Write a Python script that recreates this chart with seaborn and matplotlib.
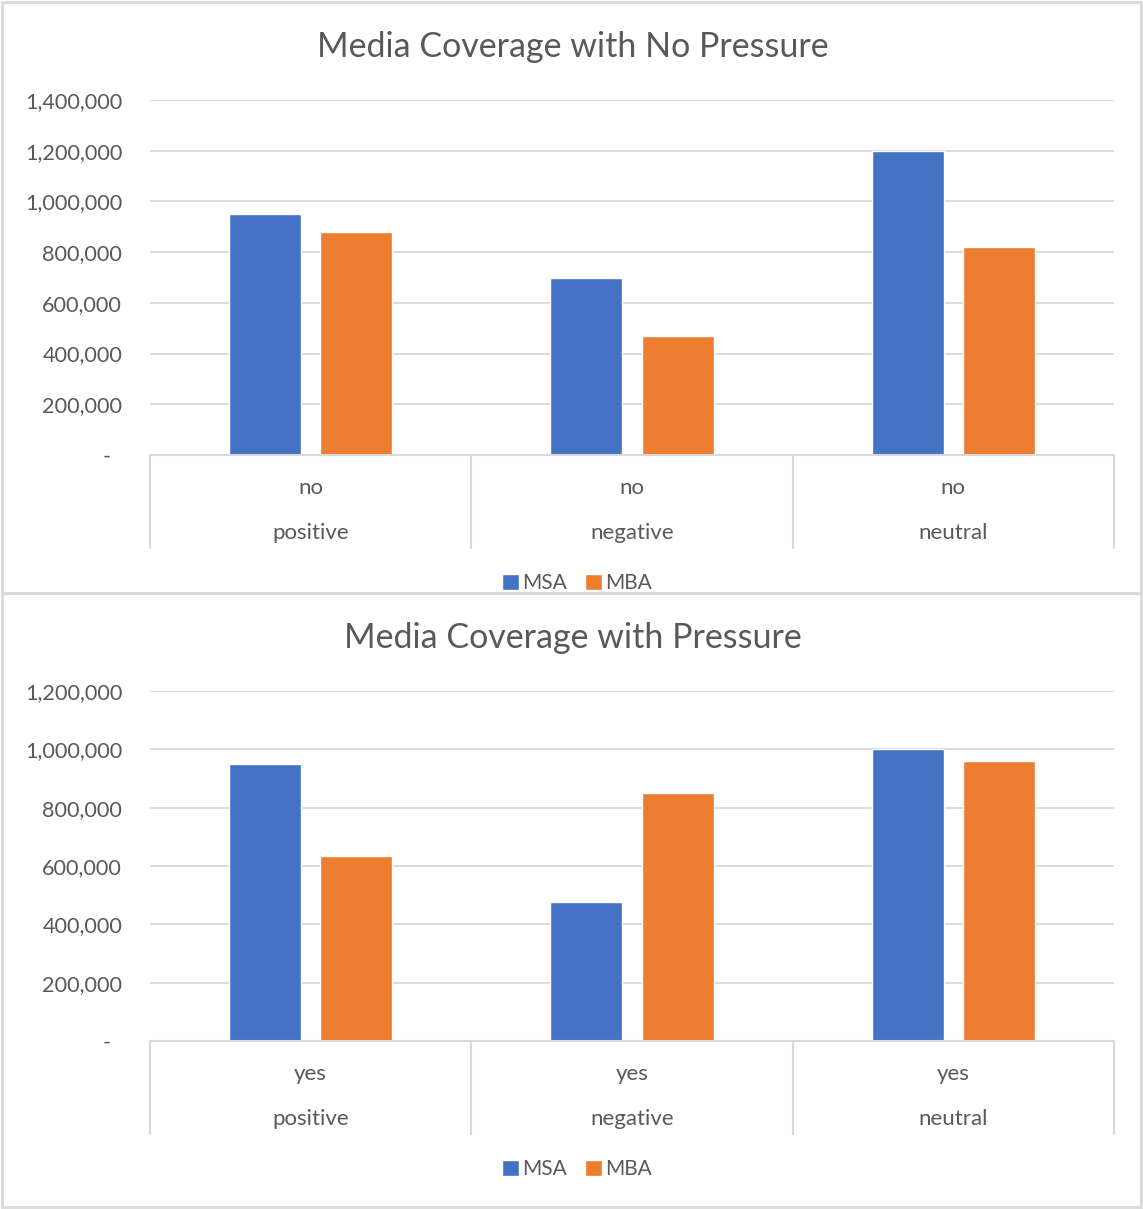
import numpy as np
import pandas as pd
import seaborn as sns
import matplotlib.pyplot as plt
from matplotlib.patches import Rectangle
from matplotlib.ticker import FuncFormatter

# datos
sentiment = ["positive", "negative", "neutral"]
series = ["MSA", "MBA"]
msa_no_pressure = [950000, 700000, 1200000]
mba_no_pressure = [880000, 470000, 820000]
msa_pressure = [950000, 475000, 1000000]
mba_pressure = [635000, 850000, 960000]

panels = [
    ("Media Coverage with No Pressure", "no", msa_no_pressure, mba_no_pressure, 1400000),
    ("Media Coverage with Pressure", "yes", msa_pressure, mba_pressure, 1200000),
]

sns.set_style("white")
plt.rcParams["font.family"] = ["Lato", "DejaVu Sans"]
text_color = "#595959"
grid_color = "#D9D9D9"
colors = ["#4472C4", "#ED7D31"]

W, H = 1143, 1209
fig = plt.figure(figsize=(W / 100, H / 100), dpi=100)


def px_box(x0, y0, x1, y1):
    # convierte pixeles (desde arriba) a coordenadas de figura
    return [x0 / W, 1 - y1 / H, (x1 - x0) / W, (y1 - y0) / H]


# bordes de los paneles
for y0, y1 in [(2, 593), (593, 1207)]:
    fig.patches.append(Rectangle((2 / W, 1 - y1 / H), (1139 / W), (y1 - y0) / H,
                                 transform=fig.transFigure, fill=False,
                                 edgecolor="#D9D9D9", linewidth=2))

tops = [100, 691]
bottoms = [455, 1041]
for (title, pressure, msa, mba, ymax), top, bottom in zip(panels, tops, bottoms):
    df = pd.DataFrame({
        "sentiment": sentiment * 2,
        "series": [series[0]] * 3 + [series[1]] * 3,
        "value": msa + mba,
    })
    ax = fig.add_axes(px_box(150, top, 1114, bottom))
    sns.barplot(data=df, x="sentiment", y="value", hue="series", palette=colors,
                width=0.567, gap=0.21, saturation=1, ax=ax, legend=True)
    ax.set_xlim(-0.5, 2.5)
    ax.set_ylim(0, ymax)
    ax.set_yticks(np.arange(0, ymax + 1, 200000))
    ax.yaxis.set_major_formatter(FuncFormatter(lambda v, p: "-  " if v == 0 else f"{v:,.0f}"))
    ax.grid(axis="y", color=grid_color, linewidth=1.3)
    ax.set_axisbelow(True)
    ax.tick_params(axis="y", length=0, pad=20, labelsize=15.6, labelcolor=text_color)
    ax.set_xticks([])
    ax.set_xlabel("")
    ax.set_ylabel("")
    for s in ["top", "right", "left"]:
        ax.spines[s].set_visible(False)
    ax.spines["bottom"].set_color(grid_color)
    ax.spines["bottom"].set_linewidth(1.5)

    # caja de categorias de dos niveles
    h = bottom - top
    trans = ax.get_xaxis_transform()
    for xs in [-0.5, 0.5, 1.5, 2.5]:
        ax.plot([xs, xs], [0, -93 / h], transform=trans, color=grid_color,
                linewidth=1.5, clip_on=False)
    for i, lab in enumerate(sentiment):
        ax.text(i, -33 / h, pressure, transform=trans, ha="center", va="center",
                fontsize=16, color=text_color)
        ax.text(i, -78 / h, lab, transform=trans, ha="center", va="center",
                fontsize=16, color=text_color)

    fig.text(573 / W, 1 - (top - 53) / H, title, ha="center", va="center",
             fontsize=24.5, color=text_color)

    ax.legend(loc="center", bbox_to_anchor=(577 / W, 1 - (bottom + 128) / H),
              bbox_transform=fig.transFigure, ncol=2, frameon=False,
              handlelength=0.8, handleheight=0.8, handletextpad=0.15,
              columnspacing=0.9, fontsize=15, labelcolor=text_color)

fig.savefig("out.png", dpi=100)
